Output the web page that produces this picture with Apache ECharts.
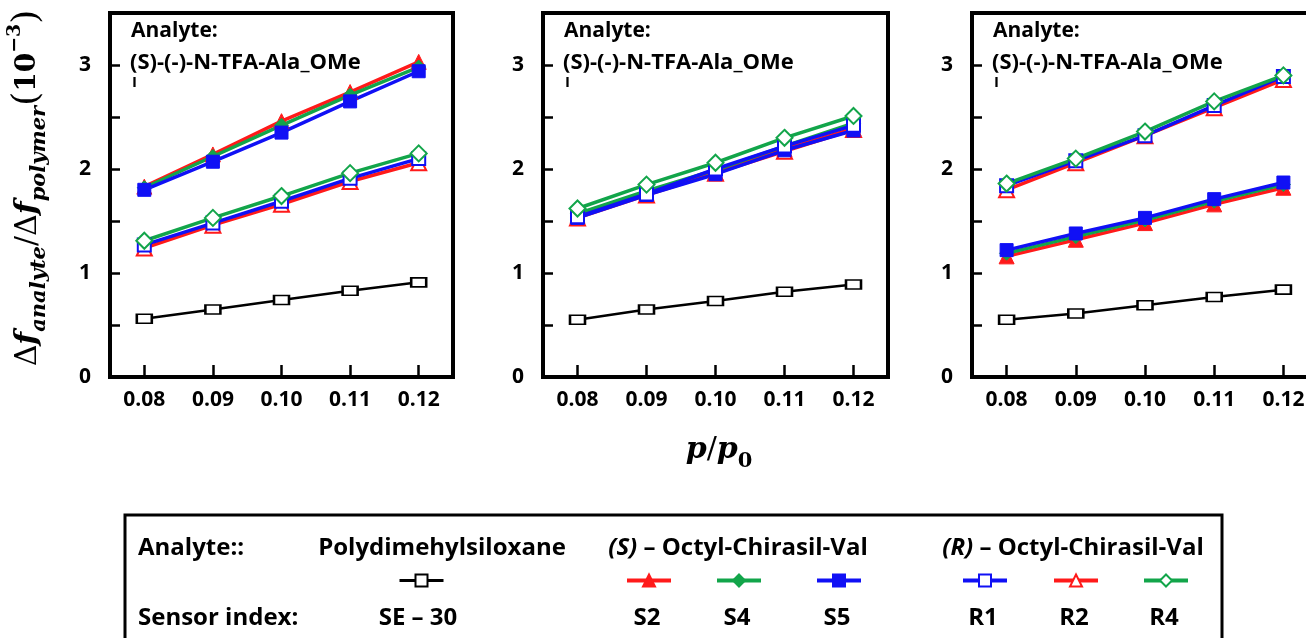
<!DOCTYPE html>
<html>
<head>
<meta charset="utf-8">
<script src="https://cdn.jsdelivr.net/npm/echarts@6/dist/echarts.min.js"></script>
<style>
  html, body { margin: 0; padding: 0; background: #fff; overflow: hidden; }
  #chart { width: 1306px; height: 638px; }
</style>
</head>
<body>
<div id="chart"></div>
<script>
// Relative pressure p/p0 (x values shared by all panels)
const pRatio = [0.08, 0.09, 0.10, 0.11, 0.12];
const xTickValues = [0.08, 0.09, 0.10, 0.11, 0.12];
const yTickValues = [0, 0.5, 1, 1.5, 2, 2.5, 3];
const yLabelValues = [0, 1, 2, 3];

// Panel 1
const se30A = [0.56, 0.65, 0.74, 0.83, 0.91];
const s2A = [1.83, 2.14, 2.46, 2.74, 3.03];
const s4A = [1.82, 2.12, 2.42, 2.71, 2.98];
const s5A = [1.80, 2.07, 2.35, 2.65, 2.94];
const r1A = [1.27, 1.48, 1.69, 1.91, 2.10];
const r2A = [1.24, 1.46, 1.66, 1.88, 2.06];
const r4A = [1.31, 1.53, 1.74, 1.96, 2.15];

// Panel 2
const se30B = [0.55, 0.65, 0.73, 0.82, 0.89];
const s2B = [1.55, 1.77, 1.97, 2.19, 2.39];
const s4B = [1.57, 1.79, 1.99, 2.22, 2.44];
const s5B = [1.53, 1.75, 1.95, 2.18, 2.37];
const r1B = [1.54, 1.76, 2.00, 2.22, 2.42];
const r2B = [1.53, 1.75, 1.96, 2.17, 2.38];
const r4B = [1.62, 1.85, 2.06, 2.30, 2.51];

// Panel 3
const se30C = [0.55, 0.61, 0.69, 0.77, 0.84];
const s2C = [1.16, 1.32, 1.48, 1.66, 1.82];
const s4C = [1.19, 1.35, 1.51, 1.69, 1.85];
const s5C = [1.22, 1.38, 1.53, 1.71, 1.87];
const r1C = [1.84, 2.08, 2.32, 2.61, 2.89];
const r2C = [1.80, 2.06, 2.32, 2.59, 2.86];
const r4C = [1.86, 2.10, 2.36, 2.65, 2.90];

// Sensor names (legend labels)
const sensorNames = ['SE – 30', 'S2', 'S4', 'S5', 'R1', 'R2', 'R4'];

const panelData = [
  { 'SE – 30': se30A, S2: s2A, S4: s4A, S5: s5A, R1: r1A, R2: r2A, R4: r4A },
  { 'SE – 30': se30B, S2: s2B, S4: s4B, S5: s5B, R1: r1B, R2: r2B, R4: r4B },
  { 'SE – 30': se30C, S2: s2C, S4: s4C, S5: s5C, R1: r1C, R2: r2C, R4: r4C }
];

const RED = '#ff1a1a', GREEN = '#12a54a', BLUE = '#1010f5', BLACK = '#000';
const styles = {
  'SE – 30': { color: BLACK, symbol: 'rect', size: [15, 9], filled: false, lw: 2.5 },
  S2: { color: RED, symbol: 'triangle', size: 15, filled: true, lw: 3.5 },
  S4: { color: GREEN, symbol: 'diamond', size: 14, filled: true, lw: 3.5 },
  S5: { color: BLUE, symbol: 'rect', size: 13, filled: true, lw: 3.5 },
  R1: { color: BLUE, symbol: 'rect', size: 13, filled: false, lw: 3.5 },
  R2: { color: RED, symbol: 'triangle', size: 15, filled: false, lw: 3.5 },
  R4: { color: GREEN, symbol: 'diamond', size: 16, filled: false, lw: 3.5 }
};
// drawing order (later = on top)
const drawOrder = ['SE – 30', 'S2', 'R2', 'S4', 'S5', 'R1', 'R4'];

const SANS = 'Open Sans';
const SERIF = 'DejaVu Serif';

// panel placement; the last panel runs past the page edge, so its frame is drawn as an open path
const gridPlacement = [
  { left: 110, width: 343, show: true },
  { left: 543, width: 345, show: true },
  { left: 972, right: -12, show: false }
];

const grids = gridPlacement.map(g => Object.assign({
  top: 13, height: 364,
  containLabel: false, outerBoundsMode: 'none',
  borderColor: '#000', borderWidth: 4, backgroundColor: 'transparent'
}, g));

const xAxes = gridPlacement.map((_, i) => ({
  type: 'value', gridIndex: i, min: 0.075, max: 0.125,
  axisLine: { show: false },
  splitLine: { show: false },
  axisTick: { show: true, inside: true, length: 12, lineStyle: { color: '#000', width: 2.5 }, customValues: xTickValues },
  axisLabel: {
    customValues: xTickValues, formatter: v => v.toFixed(2), hideOverlap: false,
    color: '#000', fontFamily: SANS, fontWeight: 'bold', fontSize: 21, margin: 13
  }
}));

const yAxes = gridPlacement.map((_, i) => ({
  type: 'value', gridIndex: i, min: 0, max: 3.5,
  axisLine: { show: false },
  splitLine: { show: false },
  axisTick: { show: true, inside: true, length: 10, lineStyle: { color: '#000', width: 2.5 }, customValues: yTickValues },
  axisLabel: {
    customValues: yLabelValues, formatter: v => String(v),
    color: '#000', fontFamily: SANS, fontWeight: 'bold', fontSize: 21, margin: 19
  }
}));

const series = [];
panelData.forEach((pd, i) => {
  drawOrder.forEach(name => {
    const st = styles[name];
    series.push({
      name, type: 'line', xAxisIndex: i, yAxisIndex: i,
      data: pRatio.map((x, k) => [x, pd[name][k]]),
      symbol: st.symbol, symbolSize: st.size, showSymbol: true,
      lineStyle: { color: st.color, width: st.lw },
      itemStyle: st.filled
        ? { color: st.color, borderColor: st.color, borderWidth: 1 }
        : { color: '#fff', borderColor: st.color, borderWidth: 2 },
      emphasis: { disabled: true },
      animation: false, z: 3
    });
  });
});

// Legend marker positions (centre x of each marker)
const legendX = { 'SE – 30': 420, S2: 647, S4: 737, S5: 837, R1: 983, R2: 1074, R4: 1164 };
const legends = sensorNames.map(name => ({
  data: [name], left: legendX[name] - 22, top: 573,
  itemWidth: 44, itemHeight: 15, itemGap: 0, padding: 0,
  formatter: () => '', selectedMode: false,
  lineStyle: { width: name === 'SE – 30' ? 3 : 4 },
  textStyle: { fontSize: 1 }
}));

// Text helpers
function txt(x, y, text, o) {
  return {
    type: 'text', x, y, silent: true,
    style: Object.assign({
      text, fill: '#000', font: 'bold 22px "' + SANS + '"',
      align: 'left', verticalAlign: 'middle'
    }, o || {})
  };
}

const graphics = [];
// open frame of the last panel (top, left and bottom edges)
graphics.push({
  type: 'polyline', silent: true, z: 5,
  shape: { points: [[1330, 13], [972, 13], [972, 377], [1330, 377]] },
  style: { fill: 'none', stroke: '#000', lineWidth: 4 }
});
// In-panel analyte note
gridPlacement.forEach(g => {
  const l = g.left;
  graphics.push(txt(l + 21, 31, 'Analyte:', { font: 'bold 21px "' + SANS + '"' }));
  graphics.push(txt(l + 20, 63, '(S)-(-)-N-TFA-Ala_OMe', { font: 'bold 22px "' + SANS + '"' }));
  graphics.push(txt(l + 22, 83, 'I', { font: 'bold 15px "' + SANS + '"' }));
});

// y axis title (rotated rich text)
const mathRich = {
  m: { fontFamily: SERIF, fontStyle: 'italic', fontWeight: 'bold', fontSize: 30, lineHeight: 44 },
  d: { fontFamily: SERIF, fontWeight: 'normal', fontSize: 30, lineHeight: 44 },
  s: { fontFamily: SERIF, fontStyle: 'italic', fontWeight: 'bold', fontSize: 21, lineHeight: 24, verticalAlign: 'bottom' },
  n: { fontFamily: SERIF, fontWeight: 'bold', fontSize: 28, lineHeight: 44 },
  p: { fontFamily: SERIF, fontWeight: 'normal', fontSize: 36, lineHeight: 44 },
  u: { fontFamily: SERIF, fontWeight: 'bold', fontSize: 19, lineHeight: 22, verticalAlign: 'top' },
  z: { fontFamily: SERIF, fontWeight: 'bold', fontSize: 21, lineHeight: 24, verticalAlign: 'bottom' }
};
graphics.push({
  type: 'text', x: 28, y: 188, rotation: Math.PI / 2, silent: true,
  style: {
    text: '{d|Δ}{m|f}{s|analyte}{d|/Δ}{m|f}{s|polymer}{p|(}{n|10}{u|−3}{p|)}',
    rich: mathRich, fill: '#000', align: 'center', verticalAlign: 'middle'
  }
});
// x axis title
graphics.push({
  type: 'text', x: 719, y: 450, silent: true,
  style: {
    text: '{m|p}{d|/}{m|p}{z|0}', rich: mathRich, fill: '#000',
    align: 'center', verticalAlign: 'middle'
  }
});

// Legend box and texts
graphics.push({
  type: 'rect', silent: true,
  shape: { x: 125, y: 515, width: 1097, height: 200 },
  style: { fill: 'none', stroke: '#000', lineWidth: 3 }
});
graphics.push(txt(138, 548, 'Analyte::', { font: 'bold 24px "' + SANS + '"' }));
graphics.push(txt(138, 618, 'Sensor index:', { font: 'bold 24px "' + SANS + '"' }));
graphics.push(txt(442, 548, 'Polydimehylsiloxane', { font: 'bold 24px "' + SANS + '"', align: 'center' }));
graphics.push({
  type: 'text', x: 738, y: 548, silent: true,
  style: {
    text: '{i|(S)}{r| – Octyl-Chirasil-Val}', fill: '#000', align: 'center', verticalAlign: 'middle',
    rich: {
      i: { fontFamily: SANS, fontStyle: 'italic', fontWeight: 'bold', fontSize: 24 },
      r: { fontFamily: SANS, fontWeight: 'bold', fontSize: 24 }
    }
  }
});
graphics.push({
  type: 'text', x: 1073, y: 548, silent: true,
  style: {
    text: '{i|(R)}{r| – Octyl-Chirasil-Val}', fill: '#000', align: 'center', verticalAlign: 'middle',
    rich: {
      i: { fontFamily: SANS, fontStyle: 'italic', fontWeight: 'bold', fontSize: 24 },
      r: { fontFamily: SANS, fontWeight: 'bold', fontSize: 24 }
    }
  }
});
sensorNames.forEach(name => {
  graphics.push(txt(legendX[name] - (name === 'SE – 30' ? 2 : 0), 618, name,
    { font: 'bold 24px "' + SANS + '"', align: 'center' }));
});

const chart = echarts.init(document.getElementById('chart'), null, { renderer: 'canvas' });
chart.setOption({
  animation: false,
  backgroundColor: '#fff',
  grid: grids,
  xAxis: xAxes,
  yAxis: yAxes,
  legend: legends,
  series,
  graphic: graphics
});
</script>
</body>
</html>
